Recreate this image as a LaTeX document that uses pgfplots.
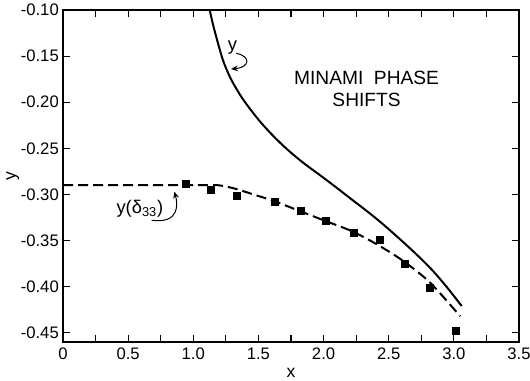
\documentclass[border=0pt]{standalone}
\usepackage{fontspec}
\setmainfont{Liberation Sans}
\usepackage{pgfplots}
\pgfplotsset{compat=1.18}
\usetikzlibrary{arrows.meta}
\begin{document}
\begin{tikzpicture}
\begin{axis}[
  scale only axis, width=273.6pt, height=199.2pt,
  xmin=0, xmax=3.5, ymin=-0.46, ymax=-0.10,
  xtick={0,0.5,1,1.5,2,2.5,3,3.5},
  xticklabels={0,0.5,1.0,1.5,2.0,2.5,3.0,3.5},
  minor xtick={0.25,0.75,1.25,1.75,2.25,2.75,3.25},
  ytick={-0.45,-0.40,-0.35,-0.30,-0.25,-0.20,-0.15,-0.10},
  yticklabels={-0.45,-0.40,-0.35,-0.30,-0.25,-0.20,-0.15,-0.10},
  tick align=inside, major tick length=4.4pt, minor tick length=4.4pt,
  tick style={line width=0.7pt, black},
  axis line style={line width=0.9pt},
  /pgf/number format/assume math mode=true,
  ticklabel style={font=\fontsize{10}{12}\selectfont},
  yticklabel style={xshift=1pt},
  xlabel={x}, ylabel={y},
  label style={font=\fontsize{10.5}{12}\selectfont},
  xlabel style={yshift=2pt},
  ylabel shift=-6pt,
]
\addplot[black, line width=1.2pt, smooth, tension=0.6] coordinates {
(1.126,-0.100) (1.15,-0.115) (1.176,-0.129) (1.226,-0.1536) (1.276,-0.171)
(1.327,-0.1845) (1.40,-0.2005) (1.528,-0.2235) (1.678,-0.2455) (1.829,-0.264)
(2.005,-0.2825) (2.18,-0.3015) (2.47,-0.334) (2.82,-0.380) (3.06,-0.421)
};
\addplot[black, line width=1.2pt, dash pattern=on 6pt off 3pt, smooth, tension=0.5] coordinates {
(0,-0.29) (0.5,-0.29) (1.0,-0.29) (1.19,-0.290) (1.327,-0.294) (1.45,-0.2995)
(1.616,-0.307) (1.817,-0.318) (2.018,-0.329) (2.219,-0.340) (2.42,-0.355)
(2.62,-0.373) (2.82,-0.396) (3.048,-0.432)
};
\addplot[only marks, mark=square*, mark size=2.1pt, black] coordinates {
(0.942,-0.289) (1.131,-0.2954) (1.334,-0.301) (1.628,-0.308) (1.829,-0.318)
(2.018,-0.329) (2.231,-0.342) (2.432,-0.349) (2.621,-0.375) (2.817,-0.401)
(3.015,-0.448)
};
\node[font=\fontsize{11}{12}\selectfont] at (axis cs:1.30,-0.141) {y};
\draw[line width=0.6pt, -{Stealth[length=4pt,width=3.5pt]}] (axis cs:1.33,-0.147) .. controls (axis cs:1.44,-0.150) and (axis cs:1.44,-0.162) .. (axis cs:1.29,-0.164);
\node[align=center, font=\fontsize{11.5}{13}\selectfont] at (axis cs:2.33,-0.1855) {MINAMI\ \ PHASE\\SHIFTS};
\node[font=\fontsize{11}{12}\selectfont] at (axis cs:0.59,-0.316) {y(δ\textsubscript{33})};
\draw[line width=0.6pt, -{Stealth[length=4pt,width=3.5pt]}] (axis cs:0.68,-0.328) .. controls (axis cs:0.90,-0.332) and (axis cs:0.88,-0.310) .. (axis cs:0.855,-0.297);
\end{axis}
\pgfresetboundingbox
\path ([shift={(-37.8pt,-23.4pt)}]current axis.south west) rectangle ([shift={(6.6pt,6pt)}]current axis.north east);
\end{tikzpicture}
\end{document}
